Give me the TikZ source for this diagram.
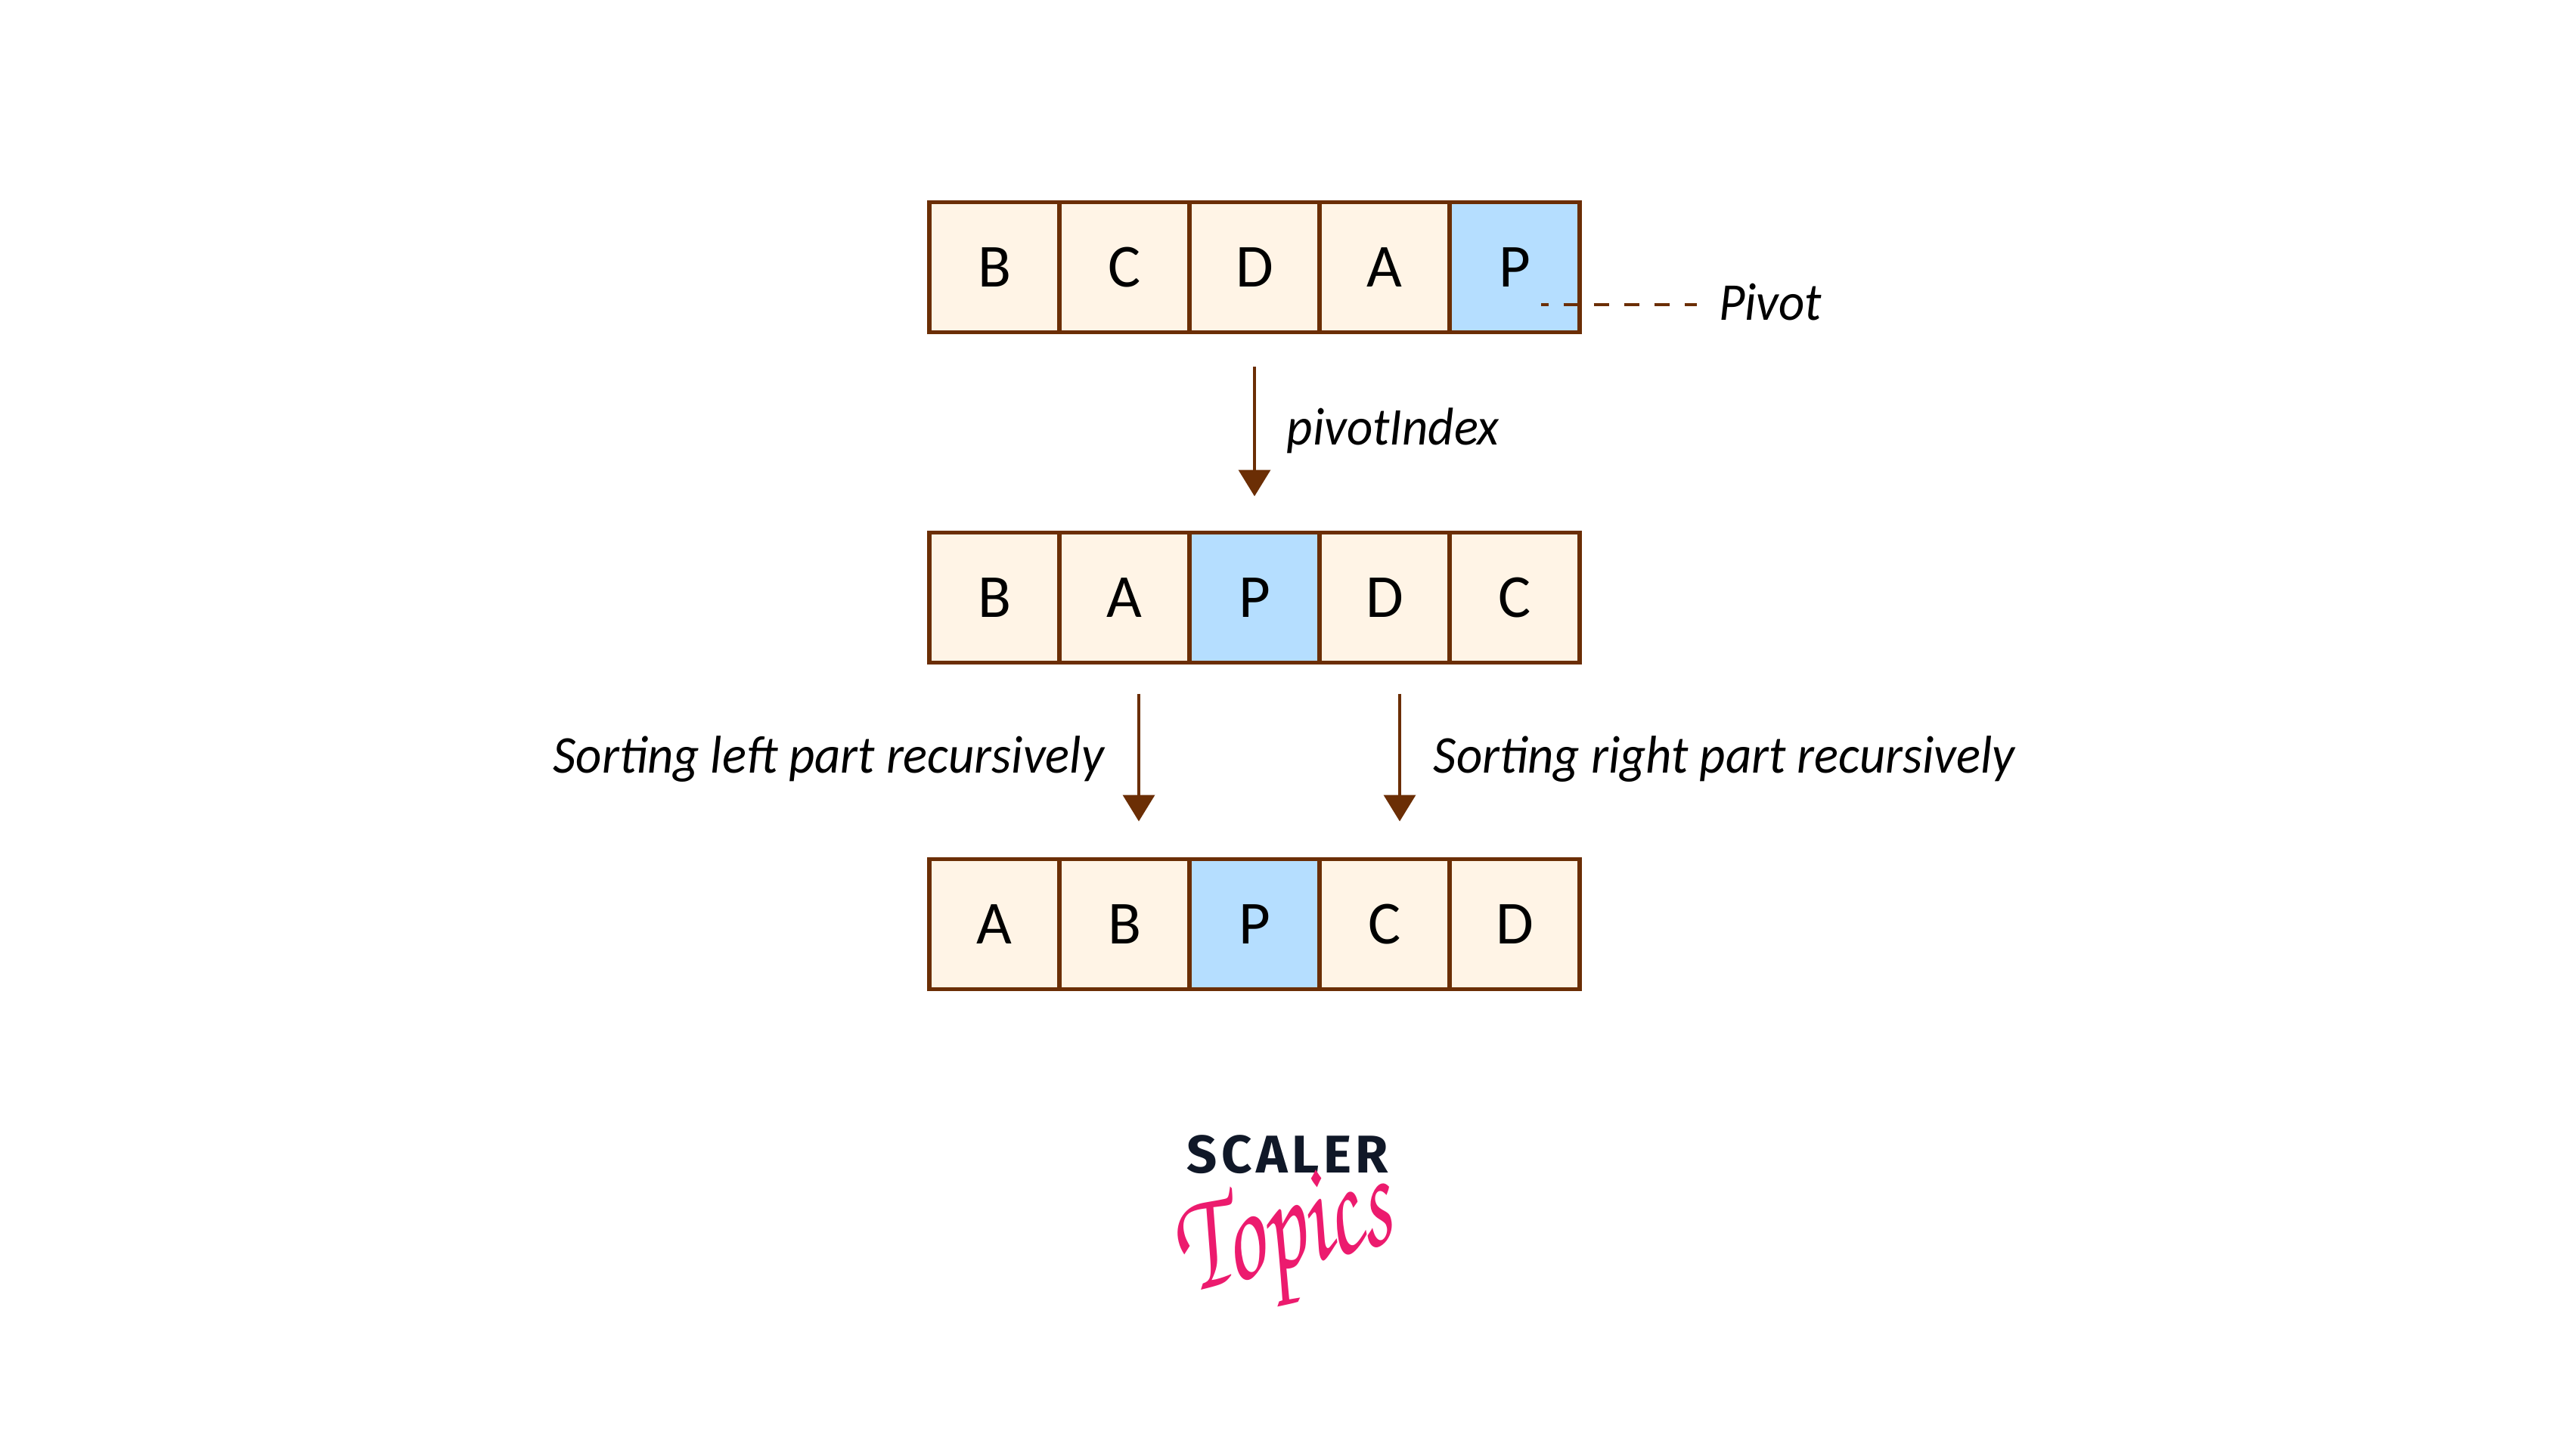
\documentclass[tikz,border=0pt]{standalone}
\usepackage{fontspec}
\setmainfont{Carlito}
\newfontfamily\notefont[FakeStretch=0.95]{Carlito}
\newfontfamily\logofont[LetterSpace=8]{Fira Sans}
\usetikzlibrary{arrows.meta, positioning, calc}
\definecolor{linebrown}{HTML}{6B2E05}
\definecolor{cream}{HTML}{FFF4E6}
\definecolor{pivotblue}{HTML}{B5DEFF}
\definecolor{logonavy}{HTML}{101828}
\definecolor{logopink}{HTML}{EC1B6E}

\begin{document}
\begin{tikzpicture}[>={Triangle[length=3.5mm,width=4.2mm]}, node distance=2.65cm and 0cm]
    \tikzstyle{cell} = [rectangle, draw=linebrown, line width=1.5pt, fill=cream, minimum size=1.72cm, outer sep=0pt, inner sep=0pt, font=\fontsize{23}{27}\selectfont]
    \tikzstyle{pivotcell} = [cell, fill=pivotblue]
    \tikzstyle{note} = [font=\fontsize{20}{24}\notefont\itshape, inner sep=0pt]
    \tikzstyle{flow} = [->, draw=linebrown, line width=1.1pt]

    \useasboundingbox (0,0) rectangle (34,-19.26);

    % First row
    \node[cell] (t1) at (13.15,-3.535) {B};
    \node[cell] (t2) [right=of t1] {C};
    \node[cell] (t3) [right=of t2] {D};
    \node[cell] (t4) [right=of t3] {A};
    \node[pivotcell] (t5) [right=of t4] {P};

    % Second row
    \node[cell] (m1) [below=of t1] {B};
    \node[cell] (m2) [right=of m1] {A};
    \node[pivotcell] (m3) [right=of m2] {P};
    \node[cell] (m4) [right=of m3] {D};
    \node[cell] (m5) [right=of m4] {C};

    % Third row
    \node[cell] (b1) [below=2.6cm of m1] {A};
    \node[cell] (b2) [right=of b1] {B};
    \node[pivotcell] (b3) [right=of b2] {P};
    \node[cell] (b4) [right=of b3] {C};
    \node[cell] (b5) [right=of b4] {D};

    % Pivot label
    \node[note] (pivot) at (23.41,-4.0) {Pivot};
    \coordinate (pivotstart) at (20.38,-4.03);
    \coordinate (pivotend) at (22.44,-4.03);
    \draw[draw=linebrown, line width=1pt, dash pattern=on 5.7pt off 5.7pt, dash phase=3pt] (pivotstart) -- (pivotend);

    % Draw arrows
    \draw[flow, shorten <=0.46cm, shorten >=0.48cm] (t3) -- node[note, right=0.41cm, yshift=0.02cm] (index) {pivotIndex} (m3);

    \coordinate (leftstart) at ($(m2.south)+(0.19,-0.41)$);
    \coordinate (leftend) at ($(b2.north)+(0.19,0.5)$);
    \coordinate (rightstart) at ($(m4.south)+(0.2,-0.41)$);
    \coordinate (rightend) at ($(b4.north)+(0.2,0.5)$);
    \draw[flow] (leftstart) -- node[note, left=0.44cm, yshift=-0.02cm] (sortleft) {Sorting left part recursively} (leftend);
    \draw[flow] (rightstart) -- node[note, right=0.43cm, yshift=-0.02cm] (sortright) {Sorting right part recursively} (rightend);

    % Logo
    \node[font=\fontsize{20}{24}\logofont\bfseries, text=logonavy, inner sep=0pt] (scaler) at (17.03,-15.27) {SCALER};
    \node[font=\fontsize{40}{44}\fontencoding{T1}\fontfamily{pzc}\selectfont, text=logopink, inner sep=0pt, rotate=14, transform shape, xscale=0.92, yscale=1.35] (topics) at (17.0,-16.44) {Topics};
\end{tikzpicture}
\end{document}
